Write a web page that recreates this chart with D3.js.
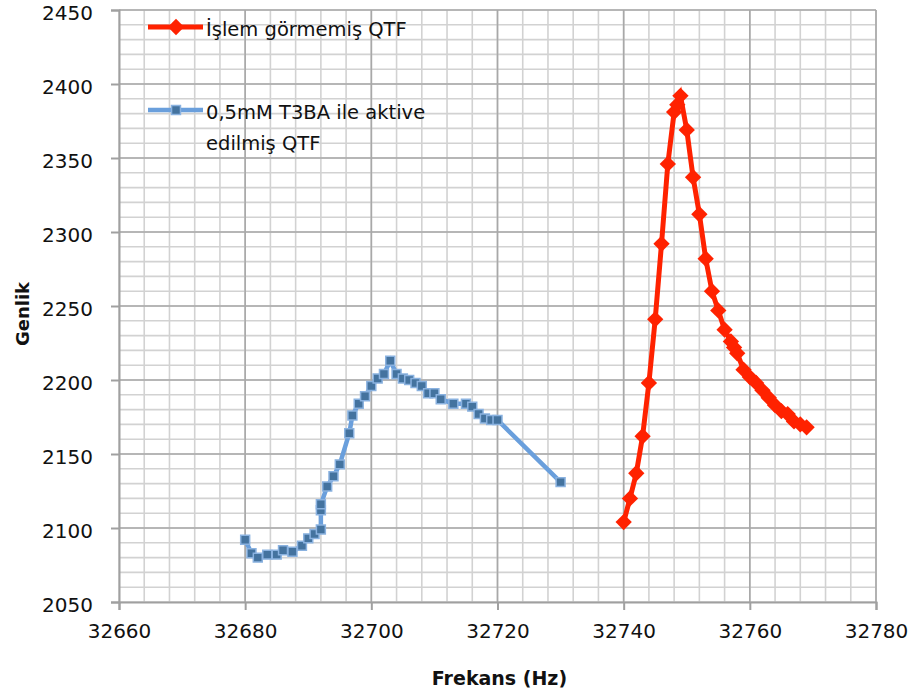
<!DOCTYPE html>
<html>
<head>
<meta charset="utf-8">
<script src="https://cdn.jsdelivr.net/npm/d3@7"></script>
<style>
  body { margin: 0; background: #fff; }
  svg text { font-family: "DejaVu Sans", sans-serif; fill: #111; }
</style>
</head>
<body>
<svg width="915" height="697"></svg>
<script>
// series 1: untreated QTF (red)
let red_hz  = [32740, 32741, 32742, 32743, 32744, 32745, 32746, 32747, 32748, 32748.5, 32749, 32750, 32751, 32752, 32753, 32754,
               32755, 32756, 32757, 32757.5, 32758, 32759, 32760, 32761, 32762, 32763, 32764, 32765, 32766, 32767, 32768, 32769]
let red_amp = [2104, 2120, 2137, 2162, 2198, 2241, 2292, 2346, 2381, 2386, 2392, 2369, 2337, 2312, 2282, 2260,
               2247, 2234, 2226, 2222, 2218, 2207, 2202, 2198, 2193, 2188, 2183, 2179, 2177, 2172, 2170, 2168]

// series 2: 0,5mM T3BA activated QTF (blue)
let blue_hz  = [32680, 32681, 32682, 32683.5, 32685, 32686, 32687.5, 32689, 32690, 32691, 32692, 32692, 32692, 32693, 32694,
                32695, 32696.5, 32697, 32698, 32699, 32700, 32701, 32702, 32703, 32704, 32705, 32706, 32707, 32708, 32709,
                32710, 32711, 32713, 32715, 32716, 32717, 32718, 32719, 32720, 32730]
let blue_amp = [2092, 2083, 2080, 2082, 2082, 2085, 2084, 2088, 2093, 2096, 2099, 2112, 2116, 2128, 2135,
                2143, 2164, 2176, 2184, 2189, 2196, 2201, 2204, 2213, 2204, 2201, 2200, 2198, 2196, 2191,
                2191, 2187, 2184, 2184, 2182, 2177, 2174, 2173, 2173, 2131]

let x_ticks = [32660, 32680, 32700, 32720, 32740, 32760, 32780]
let y_ticks = [2050, 2100, 2150, 2200, 2250, 2300, 2350, 2400, 2450]

let legend_labels = [["İşlem görmemiş QTF"], ["0,5mM T3BA ile aktive", "edilmiş QTF"]]

const m_left = 119, m_right = 876, m_top = 10, m_bottom = 602

let x = d3.scaleLinear().domain([32660, 32780]).range([m_left, m_right])
let y = d3.scaleLinear().domain([2050, 2450]).range([m_bottom, m_top])

let svg = d3.select("svg")

// minor grid
let g = svg.append("g")
g.selectAll(".vmin")
  .data(d3.range(32660, 32781, 4)).join("line")
  .attr("class", "vmin")
  .attr("x1", d => x(d)).attr("x2", d => x(d))
  .attr("y1", m_top).attr("y2", m_bottom)
  .attr("stroke", "#d2d2d2").attr("stroke-width", 1.6)
g.selectAll(".hmin")
  .data(d3.range(2050, 2451, 10)).join("line")
  .attr("class", "hmin")
  .attr("x1", m_left).attr("x2", m_right)
  .attr("y1", d => y(d)).attr("y2", d => y(d))
  .attr("stroke", "#d2d2d2").attr("stroke-width", 1.6)

// major grid
g.selectAll(".vmaj")
  .data(x_ticks.slice(1)).join("line")
  .attr("class", "vmaj")
  .attr("x1", d => x(d)).attr("x2", d => x(d))
  .attr("y1", m_top).attr("y2", m_bottom)
  .attr("stroke", "#a8a8a8").attr("stroke-width", 1.6)
g.selectAll(".hmaj")
  .data(y_ticks.slice(1)).join("line")
  .attr("class", "hmaj")
  .attr("x1", m_left).attr("x2", m_right)
  .attr("y1", d => y(d)).attr("y2", d => y(d))
  .attr("stroke", "#a8a8a8").attr("stroke-width", 1.6)

// axes
let xAxis = svg.append("g").attr("transform", `translate(0,${m_bottom})`)
  .call(d3.axisBottom(x).tickValues(x_ticks).tickFormat(d3.format("d")).tickSize(8).tickPadding(14))
let yAxis = svg.append("g").attr("transform", `translate(${m_left},0)`)
  .call(d3.axisLeft(y).tickValues(y_ticks).tickFormat(d3.format("d")).tickSize(8).tickPadding(18))
;[xAxis, yAxis].forEach(a => {
  a.select(".domain").attr("stroke", "#a0a0a0").attr("stroke-width", 2)
  a.selectAll(".tick line").attr("stroke", "#a0a0a0").attr("stroke-width", 2)
  a.selectAll(".tick text").attr("font-size", 20).attr("fill", "#111")
    .attr("font-family", "'DejaVu Sans', sans-serif")
})
yAxis.selectAll(".tick text").attr("dy", "0.45em")

// axis titles
svg.append("text").attr("x", (m_left + m_right) / 2 + 2).attr("y", 685)
  .attr("text-anchor", "middle").attr("font-size", 19).attr("font-weight", "bold")
  .text("Frekans (Hz)")
svg.append("text").attr("transform", `translate(29,${(m_top + m_bottom) / 2 + 8}) rotate(-90)`)
  .attr("text-anchor", "middle").attr("font-size", 18).attr("font-weight", "bold")
  .text("Genlik")

let line = d3.line().x(d => x(d[0])).y(d => y(d[1]))
let red_data = red_hz.map((h, i) => [h, red_amp[i]])
let blue_data = blue_hz.map((h, i) => [h, blue_amp[i]])

const red = "#ff2200", blue_line = "#6a9fdc", blue_fill = "#44739f", blue_edge = "#8ab2e0"
let diamond = d3.symbol().type(d3.symbolDiamond2).size(170)
let square = d3.symbol().type(d3.symbolSquare).size(80)

// blue series
svg.append("path").datum(blue_data).attr("d", line)
  .attr("fill", "none").attr("stroke", blue_line).attr("stroke-width", 4.5)
svg.selectAll(".bpt").data(blue_data).join("path")
  .attr("class", "bpt")
  .attr("transform", d => `translate(${x(d[0])},${y(d[1])})`)
  .attr("d", square).attr("fill", blue_fill).attr("stroke", blue_edge).attr("stroke-width", 1.5)

// red series
svg.append("path").datum(red_data).attr("d", line)
  .attr("fill", "none").attr("stroke", red).attr("stroke-width", 5)
svg.selectAll(".rpt").data(red_data).join("path")
  .attr("class", "rpt")
  .attr("transform", d => `translate(${x(d[0])},${y(d[1])})`)
  .attr("d", diamond).attr("fill", red)

// legend
let lg = svg.append("g")
let legend_y = [27, 110]
lg.append("line").attr("x1", 148).attr("x2", 203).attr("y1", legend_y[0]).attr("y2", legend_y[0])
  .attr("stroke", red).attr("stroke-width", 5)
lg.append("path").attr("transform", `translate(176,${legend_y[0]})`).attr("d", diamond).attr("fill", red)
lg.append("line").attr("x1", 148).attr("x2", 203).attr("y1", legend_y[1]).attr("y2", legend_y[1])
  .attr("stroke", blue_line).attr("stroke-width", 4.5)
lg.append("path").attr("transform", `translate(176,${legend_y[1]})`).attr("d", square)
  .attr("fill", blue_fill).attr("stroke", blue_edge).attr("stroke-width", 1.5)
legend_labels.forEach((lines, i) => {
  let t = lg.append("text").attr("x", 206).attr("y", legend_y[i] + 9).attr("font-size", 19.5)
  lines.forEach((s, j) => t.append("tspan").attr("x", 206).attr("dy", j ? 31 : 0).text(s))
})
</script>
</body>
</html>
